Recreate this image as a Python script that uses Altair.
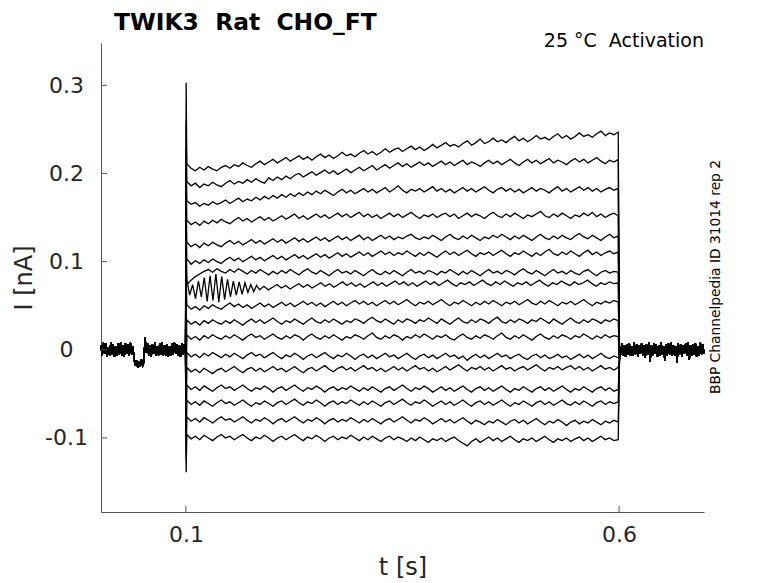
import altair as alt
import numpy as np
import pandas as pd

# ---- data (current values in 1e-3 nA) ----
x_ticks = [0.1, 0.6]
y_ticks = [-0.1, 0.0, 0.1, 0.2, 0.3]

# shared holding baseline before the step (0.002 .. 0.0995 s)
PRE = [5, -7, 8, -4, 7, -8, 3, -6, 8, -5,
       6, -8, 4, -7, 7, -5, 8, -6, 5, -8,
       7, -4, 6, -7, 8, -5, 4,
       -10, -18, -12, -20, -13, -19, -11, -18, -14,
       14, -3,
       7, -6, 5, -8, 6, -4, 8, -7, 4, -6, 7, -5, 8, -6, 5, -7,
       6, -8, 4, -6, 7, -5, 8, -4, 6, -7, 5, -8, 7, -5, 6, -4]

# shared baseline after the step (0.6005 .. 0.698 s)
POST = [-10, -4, 7, -6, 5, -8, 6, -5, 7, -7, 4, -6, 8, -5, 6, -8, 5, -4, 7, -6,
        5, -9, 6, -5, 8, -13, 5, -6, 7, -4, 6, -8, 5, -7, 8, -5, 4, -12, 6, -6,
        7, -5, 8, -7, 5, -6, 4, -14, 7, -5, 6, -8, 5, -4, 7, -6, 8, -11, 5, -7,
        6, -5, 7, -8, 4, -6, 8, -5, 6, -4]

# capacitive transient right at the step onset
SPIKE = [303, 260, 230, 200, 170, 150, 130, 110, 90, -20, -40, -60, -80, -100, -115, -125, -139]

# the 17 traces during the 0.1 .. 0.6 s test pulse
T1 = [211, 206, 203, 207, 204, 208, 205, 203, 207, 209, 206, 210, 208, 212, 209, 207, 211, 214, 210, 213,
      216, 212, 215, 218, 214, 217, 220, 216, 219, 215, 219, 222, 218, 221, 217, 220, 224, 220, 222, 219,
      223, 226, 222, 225, 221, 224, 228, 224, 227, 229, 225, 228, 231, 227, 230, 226, 229, 233, 229, 232,
      235, 231, 233, 230, 234, 237, 232, 235, 239, 234, 236, 240, 236, 238, 235, 239, 242, 237, 240, 236,
      239, 243, 239, 241, 238, 242, 245, 240, 243, 239, 242, 246, 242, 244, 241, 245, 248, 243, 246, 244, 247]
T2 = [191, 186, 189, 184, 188, 186, 190, 187, 185, 189, 192, 188, 191, 189, 193, 190, 194, 191, 189, 195,
      192, 196, 193, 197, 194, 198, 200, 196, 199, 202, 198, 201, 204, 200, 203, 199, 202, 205, 201, 204,
      207, 203, 206, 209, 204, 207, 210, 206, 209, 212, 208, 211, 207, 210, 213, 209, 212, 208, 211, 214,
      210, 213, 209, 212, 215, 210, 213, 211, 208, 212, 215, 211, 214, 210, 213, 216, 212, 209, 213, 216,
      212, 215, 211, 214, 217, 212, 215, 213, 210, 214, 217, 213, 216, 212, 215, 218, 214, 211, 215, 213, 216]
T3 = [169, 165, 167, 163, 166, 164, 168, 165, 167, 170, 166, 169, 172, 168, 171, 169, 173, 170, 174, 171,
      175, 172, 176, 173, 177, 174, 178, 175, 179, 176, 180, 177, 181, 178, 175, 179, 182, 178, 181, 177,
      180, 183, 179, 182, 178, 181, 184, 179, 182, 186, 181, 178, 182, 180, 183, 179, 182, 185, 180, 183,
      179, 182, 178, 181, 184, 180, 183, 179, 182, 185, 181, 178, 182, 184, 180, 183, 179, 182, 178, 181,
      184, 180, 183, 181, 178, 182, 185, 180, 183, 179, 182, 185, 181, 184, 180, 183, 179, 182, 184, 181, 183]
T4 = [147, 142, 145, 141, 146, 143, 147, 144, 148, 145, 143, 147, 150, 146, 149, 145, 148, 151, 147, 150,
      146, 149, 152, 148, 151, 154, 149, 152, 148, 151, 154, 150, 153, 149, 152, 155, 151, 154, 150, 153,
      156, 151, 154, 150, 153, 149, 152, 155, 151, 154, 150, 153, 156, 152, 149, 153, 151, 154, 150, 153,
      155, 151, 154, 149, 152, 155, 151, 154, 152, 149, 153, 156, 152, 150, 154, 151, 155, 152, 149, 153,
      151, 154, 157, 152, 150, 154, 151, 155, 152, 149, 153, 151, 155, 152, 156, 151, 154, 150, 153, 155, 152]
T5 = [122, 117, 120, 116, 121, 118, 122, 119, 117, 121, 124, 120, 123, 119, 122, 125, 121, 124, 120, 123,
      126, 122, 125, 121, 124, 127, 123, 126, 122, 125, 128, 124, 127, 123, 126, 129, 125, 128, 124, 127,
      130, 125, 128, 124, 127, 130, 126, 129, 125, 128, 126, 129, 131, 127, 125, 128, 126, 130, 127, 124,
      128, 131, 127, 125, 129, 126, 130, 127, 124, 128, 126, 130, 127, 131, 128, 125, 129, 126, 130, 127,
      124, 128, 131, 127, 125, 129, 126, 130, 127, 125, 129, 132, 128, 126, 130, 127, 124, 128, 131, 127, 129]
T6 = [103, 97, 101, 98, 102, 99, 103, 100, 98, 102, 105, 101, 104, 100, 103, 106, 102, 105, 101, 104,
      107, 103, 106, 102, 105, 108, 104, 107, 103, 106, 109, 105, 108, 104, 107, 110, 106, 109, 105, 108,
      111, 107, 110, 106, 109, 112, 108, 111, 107, 110, 108, 112, 109, 106, 110, 107, 111, 108, 105, 109,
      112, 108, 111, 107, 110, 113, 109, 106, 110, 108, 111, 107, 110, 113, 109, 106, 110, 108, 112, 109,
      106, 110, 107, 111, 114, 109, 107, 111, 108, 112, 109, 106, 110, 113, 108, 111, 107, 110, 112, 109, 111]
T7 = [74, 79, 83, 86, 89, 91, 88, 92, 89, 87, 91, 88, 92, 89, 86, 90, 87, 91, 88, 85,
      89, 86, 90, 87, 91, 88, 85, 89, 92, 88, 86, 90, 87, 84, 88, 91, 87, 89, 86, 90,
      87, 84, 88, 91, 87, 85, 89, 86, 90, 87, 84, 88, 91, 87, 89, 86, 90, 88, 85, 89,
      87, 91, 88, 85, 89, 86, 90, 87, 84, 88, 91, 87, 89, 86, 90, 88, 85, 89, 92, 88,
      86, 90, 87, 84, 88, 91, 87, 89, 86, 90, 87, 85, 89, 91, 87, 84, 88, 90, 87, 89, 88]
# trace 8: ringing part (0.101 .. 0.185 s) and the rest (0.19 .. 0.599 s)
T8_OSC = [80, 62, 74, 58, 78, 60, 82, 55, 84, 56, 86, 54, 83, 57, 80, 60, 78, 62, 77, 63, 76, 65, 74, 66, 73, 68]
T8_REST = [72, 68, 71, 74, 70, 73, 69, 72, 75, 71, 74, 70, 73, 76, 72, 75, 71, 74, 77, 73,
           76, 72, 75, 71, 74, 77, 73, 76, 72, 75, 78, 74, 77, 73, 76, 72, 75, 78, 74, 77,
           73, 76, 79, 75, 72, 76, 74, 77, 73, 76, 79, 75, 73, 77, 74, 78, 75, 72, 76, 74,
           77, 73, 76, 79, 75, 72, 76, 74, 78, 75, 73, 77, 74, 76, 79, 75, 72, 76, 74, 77, 75, 76]
T9 = [51, 46, 49, 45, 50, 47, 51, 48, 46, 50, 53, 49, 52, 48, 51, 47, 50, 53, 49, 52,
      48, 51, 54, 50, 53, 49, 52, 55, 51, 54, 50, 53, 49, 52, 55, 51, 54, 50, 53, 56,
      52, 55, 51, 54, 50, 53, 56, 52, 55, 51, 54, 57, 53, 50, 54, 52, 55, 51, 54, 57,
      53, 50, 54, 52, 56, 53, 50, 54, 51, 55, 52, 56, 53, 50, 54, 52, 55, 51, 54, 57,
      53, 51, 55, 52, 56, 53, 50, 54, 52, 55, 51, 54, 57, 53, 50, 54, 52, 55, 53, 56, 54]
T10 = [34, 29, 32, 28, 33, 30, 34, 31, 29, 33, 30, 34, 31, 28, 32, 35, 31, 34, 30, 33,
       36, 32, 29, 33, 31, 35, 32, 29, 33, 36, 32, 30, 34, 31, 35, 32, 29, 33, 31, 35,
       33, 30, 34, 37, 33, 31, 35, 32, 29, 34, 31, 35, 33, 30, 34, 32, 36, 33, 30, 35,
       32, 29, 33, 36, 32, 30, 34, 31, 35, 33, 30, 34, 37, 32, 30, 34, 31, 35, 33, 30,
       34, 32, 36, 33, 30, 35, 32, 29, 33, 36, 32, 30, 34, 31, 35, 33, 30, 34, 32, 35, 33]
T11 = [17, 12, 15, 11, 16, 13, 17, 14, 12, 16, 13, 17, 14, 11, 15, 18, 14, 16, 12, 15,
       18, 14, 12, 16, 13, 17, 15, 11, 15, 18, 14, 12, 16, 13, 17, 14, 11, 15, 13, 17,
       15, 12, 16, 19, 14, 12, 16, 13, 17, 15, 11, 15, 13, 17, 14, 18, 15, 12, 16, 14,
       17, 13, 11, 15, 18, 14, 12, 16, 13, 17, 15, 12, 16, 19, 14, 12, 16, 13, 17, 14,
       11, 15, 18, 14, 12, 16, 13, 17, 15, 12, 16, 14, 18, 15, 12, 16, 13, 17, 14, 16, 15]
T12 = [-3, -8, -5, -9, -4, -7, -3, -6, -9, -5, -8, -4, -7, -10, -6, -3, -7, -5, -9, -6,
       -3, -7, -10, -6, -8, -4, -7, -11, -7, -5, -9, -6, -3, -7, -10, -6, -8, -4, -7, -11,
       -7, -5, -9, -6, -10, -7, -4, -8, -6, -10, -7, -4, -8, -11, -7, -5, -9, -6, -10, -7,
       -4, -8, -6, -10, -7, -12, -8, -5, -9, -6, -10, -7, -4, -8, -6, -10, -7, -5, -9, -11,
       -7, -5, -9, -6, -10, -8, -5, -9, -7, -11, -8, -5, -9, -6, -10, -7, -4, -8, -10, -7, -9]
T13 = [-20, -25, -22, -26, -21, -24, -27, -23, -21, -25, -22, -19, -23, -26, -22, -20, -24, -21, -25, -22,
       -19, -23, -21, -25, -22, -19, -23, -26, -22, -20, -24, -21, -18, -22, -25, -21, -19, -23, -20, -24,
       -21, -18, -22, -20, -24, -21, -25, -22, -19, -23, -20, -24, -21, -18, -22, -20, -24, -21, -25, -22,
       -19, -23, -20, -17, -21, -24, -20, -22, -19, -23, -20, -24, -21, -18, -22, -20, -24, -21, -19, -23,
       -20, -17, -21, -24, -20, -22, -19, -23, -20, -18, -22, -19, -23, -20, -24, -21, -18, -22, -20, -23, -20]
T14 = [-40, -45, -42, -46, -41, -44, -47, -43, -40, -44, -42, -46, -43, -40, -44, -47, -43, -45, -41, -44,
       -48, -44, -42, -46, -43, -40, -44, -47, -43, -45, -41, -44, -48, -44, -42, -46, -43, -45, -41, -44,
       -47, -43, -46, -42, -45, -48, -44, -42, -46, -43, -40, -44, -47, -43, -45, -41, -44, -48, -45, -42,
       -46, -43, -47, -44, -41, -45, -48, -44, -42, -46, -43, -47, -44, -41, -45, -48, -44, -46, -42, -45,
       -48, -44, -42, -46, -43, -47, -44, -41, -45, -48, -44, -46, -42, -45, -48, -44, -42, -46, -43, -47, -45]
T15 = [-57, -62, -59, -63, -58, -61, -64, -60, -57, -61, -59, -63, -60, -57, -61, -64, -60, -62, -58, -61,
       -64, -60, -58, -62, -59, -56, -60, -63, -59, -61, -57, -60, -64, -60, -58, -62, -59, -61, -57, -60,
       -63, -59, -62, -58, -61, -64, -60, -58, -62, -59, -56, -60, -63, -59, -61, -57, -60, -64, -61, -58,
       -62, -59, -63, -60, -57, -61, -64, -60, -58, -62, -59, -63, -60, -57, -61, -64, -60, -62, -58, -61,
       -64, -60, -58, -62, -59, -63, -60, -57, -61, -63, -59, -62, -58, -61, -64, -60, -58, -62, -59, -61, -59]
T16 = [-76, -81, -78, -82, -77, -80, -83, -79, -76, -80, -78, -82, -79, -76, -80, -83, -79, -81, -77, -80,
       -84, -80, -78, -82, -79, -76, -80, -83, -79, -81, -77, -80, -84, -80, -78, -82, -79, -81, -77, -80,
       -83, -79, -82, -78, -81, -84, -80, -78, -82, -79, -76, -80, -83, -79, -81, -77, -80, -84, -81, -78,
       -82, -79, -83, -80, -77, -81, -84, -80, -82, -85, -81, -83, -79, -82, -85, -81, -79, -83, -80, -84,
       -81, -78, -82, -85, -81, -83, -79, -82, -86, -82, -80, -84, -81, -83, -79, -82, -85, -81, -83, -80, -82]
T17 = [-96, -101, -98, -102, -97, -100, -103, -99, -96, -100, -98, -102, -99, -96, -100, -103, -99, -101, -97, -100,
       -104, -100, -98, -102, -99, -96, -100, -103, -99, -101, -97, -100, -104, -100, -98, -102, -99, -101, -97, -100,
       -103, -99, -102, -98, -101, -104, -100, -98, -102, -99, -101, -104, -100, -103, -99, -102, -105, -101, -103, -100,
       -104, -101, -99, -103, -106, -109, -104, -101, -105, -102, -99, -103, -100, -104, -101, -98, -102, -105, -101, -103,
       -100, -104, -101, -98, -102, -105, -101, -103, -100, -104, -101, -99, -103, -100, -104, -101, -98, -102, -100, -103, -102]

TRACES = [T1, T2, T3, T4, T5, T6, T7, T8_OSC + T8_REST, T9, T10, T11, T12, T13, T14, T15, T16, T17]

TITLE = "TWIK3\u00a0\u00a0Rat\u00a0\u00a0CHO_FT"
NOTE = "25 \u00b0C\u00a0\u00a0Activation"
SIDE = "BBP Channelpedia ID 31014 rep 2"

# ---- build the long table ----
t_pre = np.linspace(0.002, 0.0995, len(PRE))
t_post = np.linspace(0.6005, 0.698, len(POST))
rows = []
for k, vals in enumerate(TRACES):
    if k == 7:
        t_step = np.concatenate([np.linspace(0.101, 0.185, len(T8_OSC)),
                                 np.linspace(0.19, 0.599, len(T8_REST))])
    else:
        t_step = np.linspace(0.101, 0.599, len(vals))
    ts = list(t_pre) + [0.1003] + list(t_step) + list(t_post)
    vs = PRE + [SPIKE[k]] + vals + POST
    for j, (t, v) in enumerate(zip(ts, vs)):
        rows.append({"t": float(t), "I": v / 1000.0, "trace": k, "idx": j})
df = pd.DataFrame(rows)

W, H = 603, 469
xscale = alt.Scale(domain=[0.002, 0.698], nice=False, zero=False)
yscale = alt.Scale(domain=[-0.184, 0.348], nice=False, zero=False)
AX = "#555555"
LAB = "#262626"
FONT = "DejaVu Sans"

lines = alt.Chart(df).mark_line(color="black", strokeWidth=1.3).encode(
    x=alt.X("t:Q", scale=xscale, title="t [s]",
            axis=alt.Axis(values=x_ticks, tickSize=0, labelPadding=12, grid=False,
                          domainColor=AX, labelColor=LAB, labelFontSize=22, labelFont=FONT,
                          titleFontSize=24, titleFont=FONT, titleColor=LAB, titleFontWeight="normal",
                          titlePadding=10, labelExpr="format(datum.value, '.1f')")),
    y=alt.Y("I:Q", scale=yscale, title="I [nA]",
            axis=alt.Axis(values=y_ticks, tickSize=0, labelPadding=35, labelAlign="center",
                          grid=False, domainColor=AX, labelColor=LAB, labelFontSize=22,
                          labelFont=FONT, titleFontSize=24, titleFont=FONT, titleColor=LAB,
                          titleFontWeight="normal", titlePadding=8,
                          labelExpr="datum.value == 0 ? '0' : (datum.value < 0 ? '-' + format(-datum.value, '.1f') : format(datum.value, '.1f'))")),
    detail="trace:N",
    order="idx:Q",
)

ytick_df = pd.DataFrame({"v": y_ticks})
xtick_df = pd.DataFrame({"v": x_ticks})
yticks = alt.Chart(ytick_df).mark_rule(color=AX, strokeWidth=1).encode(
    y=alt.Y("v:Q", scale=yscale), x=alt.value(0), x2=alt.value(6))
xticks = alt.Chart(xtick_df).mark_rule(color=AX, strokeWidth=1).encode(
    x=alt.X("v:Q", scale=xscale), y=alt.value(H), y2=alt.value(H - 6))

title = alt.Chart(pd.DataFrame({"s": [TITLE]})).mark_text(
    align="left", baseline="alphabetic", fontSize=23.4, font=FONT, fontWeight="bold", color="black"
).encode(text="s:N", x=alt.value(13), y=alt.value(-13))

note = alt.Chart(pd.DataFrame({"s": [NOTE]})).mark_text(
    align="right", baseline="alphabetic", fontSize=19, font=FONT, color="black"
).encode(text="s:N", x=alt.value(W), y=alt.value(4))

side = alt.Chart(pd.DataFrame({"s": [SIDE]})).mark_text(
    align="center", baseline="middle", angle=270, fontSize=13.8, font=FONT, color="black"
).encode(text="s:N", x=alt.value(615), y=alt.value(234))

chart = alt.layer(lines, yticks, xticks, title, note, side).properties(
    width=W, height=H,
    padding={"left": 93, "top": 35, "right": 60, "bottom": 70},
    autosize="none",
).configure_view(stroke=None).configure_axis(domainWidth=1)

chart.save("out.html", embed_options={"renderer": "svg", "actions": False})
